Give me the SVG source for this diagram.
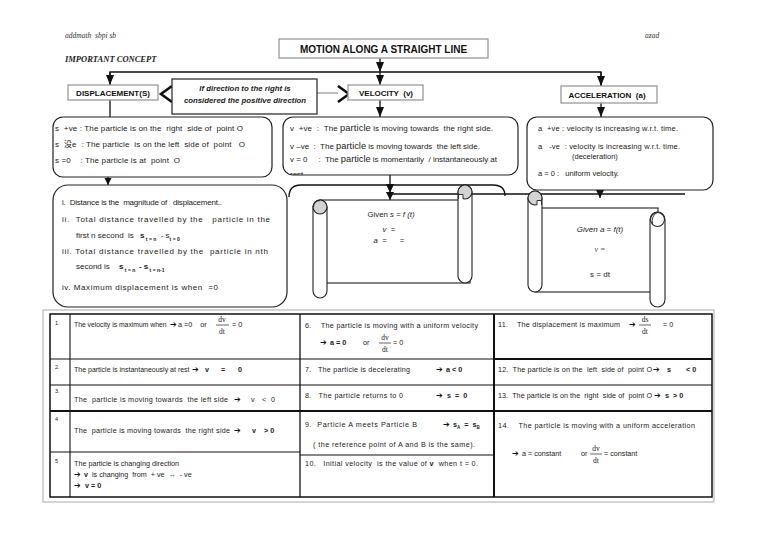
<svg xmlns="http://www.w3.org/2000/svg" width="768" height="534" viewBox="0 0 768 534">
<defs>
<style>
.t{font-family:"Liberation Sans",Arial,sans-serif;font-size:7.2px;fill:#222;white-space:pre}
.t8{font-family:"Liberation Sans",Arial,sans-serif;font-size:8px;fill:#222;white-space:pre}
.t75{font-family:"Liberation Sans",Arial,sans-serif;font-size:7.5px;fill:#222;white-space:pre}
.n{font-family:"Liberation Sans",Arial,sans-serif;font-size:5.5px;fill:#222}
.b{font-weight:bold}
.ar{font-family:"DejaVu Sans",sans-serif;font-size:8px;fill:#111}
.ser{font-family:"Liberation Serif","Times New Roman",serif;font-size:7.5px;fill:#222}
.hd{font-family:"Liberation Sans",Arial,sans-serif;font-weight:bold;fill:#111;white-space:pre}
.box{fill:#fff;stroke:#222;stroke-width:1.2}
.gbox{fill:#fff;stroke:#9a9a9a;stroke-width:1.3}
.ln{stroke:#111;stroke-width:1.3;fill:none}
.tl{stroke:#111;stroke-width:1.1;fill:none}
.tk{stroke:#111;stroke-width:2;fill:none}
.fr{stroke:#222;stroke-width:0.7}
.curl{fill:#d3d3d3;stroke:#222;stroke-width:1.1}
.sc{fill:#fff;stroke:#222;stroke-width:1.1}
</style>
<marker id="ah" markerUnits="userSpaceOnUse" markerWidth="8" markerHeight="10" refX="4" refY="10" orient="0" viewBox="0 0 8 10">
<path d="M0,0 L8,0 L4,10 Z" fill="#111"/>
</marker>
<clipPath id="cv"><rect x="283" y="117" width="235" height="58" rx="10"/></clipPath>
</defs>
<rect width="768" height="534" fill="#fff"/>

<text x="65" y="38" style="font-family:'Liberation Serif',serif;font-style:italic;font-size:7.5px;fill:#333;white-space:pre">addmath  sbpi sb</text>
<text x="645" y="38" style="font-family:'Liberation Serif',serif;font-style:italic;font-size:7.5px;fill:#333">azad</text>
<text x="65" y="62" style="font-family:'Liberation Serif',serif;font-style:italic;font-weight:bold;font-size:8.5px;fill:#222">IMPORTANT CONCEPT</text>

<g id="connectors">
<line class="ln" x1="380" y1="58" x2="380" y2="72" marker-end="url(#ah)"/>
<polyline class="ln" points="110,85 110,72 601,72 601,86"/>
<line class="ln" x1="110" y1="72" x2="110" y2="85" marker-end="url(#ah)"/>
<line class="ln" x1="380" y1="72" x2="380" y2="85" marker-end="url(#ah)"/>
<line class="ln" x1="601" y1="72" x2="601" y2="86" marker-end="url(#ah)"/>
<line class="ln" x1="110" y1="100" x2="110" y2="117"/>
<line class="ln" x1="380" y1="100" x2="380" y2="117" marker-end="url(#ah)"/>
<line class="ln" x1="601" y1="103" x2="601" y2="117" marker-end="url(#ah)"/>
<line class="ln" x1="108" y1="177" x2="108" y2="185"/>
<path d="M104.5,178 L111.5,178 L108,185 Z" fill="#111"/>
<line x1="317" y1="93" x2="338" y2="93" stroke="#999" stroke-width="1.3"/>
<polyline points="172,86 161,94 172,102" fill="none" stroke="#111" stroke-width="2.6"/>
<polyline points="338,86 349,94 338,102" fill="none" stroke="#111" stroke-width="2.6"/>
<path class="ln" d="M289,197 Q289,185 301,185 L493,185 Q505,185 505,196"/>
<line class="ln" x1="390" y1="194" x2="685" y2="194"/>
<line class="ln" x1="390" y1="175" x2="390" y2="200"/>
<path d="M386,184 L394,184 L390,193 Z M386,192 L394,192 L390,200 Z" fill="#111"/>
<line class="ln" x1="600" y1="190" x2="600" y2="198"/>
<path d="M596,190 L604,190 L600,198 Z" fill="#111"/>
</g>

<g id="title">
<rect class="gbox" x="279" y="39" width="209" height="19"/>
<text class="hd" x="383.5" y="52.5" text-anchor="middle" font-size="10">MOTION ALONG A STRAIGHT LINE</text>
</g>

<g id="displacement">
<rect class="gbox" x="68" y="85" width="90" height="15"/>
<text class="hd" x="113" y="95.5" text-anchor="middle" font-size="8">DISPLACEMENT(S)</text>
</g>

<g id="direction-note">
<rect class="box" x="172" y="79" width="145" height="35"/>
<text x="245" y="91" text-anchor="middle" style="font-family:'Liberation Sans',Arial,sans-serif;font-weight:bold;font-style:italic;font-size:7.8px;fill:#222">If direction to the right is</text>
<text x="245" y="103" text-anchor="middle" style="font-family:'Liberation Sans',Arial,sans-serif;font-weight:bold;font-style:italic;font-size:7.8px;fill:#222">considered the positive direction</text>
</g>

<g id="velocity">
<rect class="gbox" x="348" y="85" width="75" height="15"/>
<text class="hd" x="386" y="95.5" text-anchor="middle" font-size="8">VELOCITY  (v)</text>
</g>

<g id="acceleration">
<rect class="gbox" x="561" y="86" width="96" height="17"/>
<text class="hd" x="607" y="97.5" text-anchor="middle" font-size="8">ACCELERATION  (a)</text>
</g>

<g id="displacement-signs">
<rect class="box" x="53" y="117" width="219" height="60" rx="10"/>
<text class="t8" x="55" y="131" textLength="188" lengthAdjust="spacing">s  +ve : The particle is on the  right  side of  point O</text>
<text class="t8" x="55" y="147" textLength="190" lengthAdjust="spacing" style="font-family:'Liberation Sans','Noto Sans CJK SC',sans-serif">s  没e  : The particle  is on the left  side of  point   O</text>
<text class="t8" x="55" y="163" textLength="125" lengthAdjust="spacing">s =0    : The particle is at  point  O</text>
</g>

<g id="velocity-signs">
<rect class="box" x="283" y="117" width="235" height="58" rx="10"/>
<g clip-path="url(#cv)">
<text class="t8" x="290" y="131" textLength="203" lengthAdjust="spacing">v  +ve  :  The <tspan font-size="9.3">particle</tspan> is moving towards  the right side.</text>
<text class="t8" x="290" y="149" textLength="190" lengthAdjust="spacing">v –ve  :  The <tspan font-size="9.3">particle</tspan> is moving towards  the left side.</text>
<text class="t8" x="290" y="162" textLength="207" lengthAdjust="spacing">v = 0     :  The <tspan font-size="9.3">particle</tspan> is momentarily  / instantaneously at</text>
<text class="t8" x="290" y="177">rest</text>
</g>
</g>

<g id="acceleration-signs">
<rect class="box" x="527" y="117" width="186" height="73" rx="10"/>
<text class="t75" x="538" y="131" textLength="140" lengthAdjust="spacing">a  +ve : velocity is increasing w.r.t. time.</text>
<text class="t75" x="538" y="149" textLength="142" lengthAdjust="spacing">a   -ve  : velocity is increasing w.r.t. time.</text>
<text class="t75" x="572" y="159">(deceleration)</text>
<text class="t75" x="538" y="176">a = 0 :   uniform velocity.</text>
</g>

<g id="distance-notes">
<rect class="box" x="53" y="185" width="234" height="122" rx="15"/>
<text class="t8" x="62" y="205" textLength="160" lengthAdjust="spacing">i.  Distance is the  magnitude of   displacement..</text>
<text class="t8" x="62" y="222" textLength="208" lengthAdjust="spacing">ii.  Total distance travelled by the   particle in the</text>
<text class="t8" x="76" y="238">first n second  is</text>
<text class="t8" x="140" y="238"><tspan font-weight="bold">s</tspan><tspan font-size="5" font-weight="bold" dy="2.5"> t = n</tspan><tspan dy="-2.5">  - s</tspan><tspan font-size="5" font-weight="bold" dy="2.5">t = 0</tspan></text>
<text class="t8" x="62" y="254" textLength="206" lengthAdjust="spacing">iii. Total distance travelled by the  particle in nth</text>
<text class="t8" x="76" y="269">second is</text>
<text class="t8" x="119" y="269"><tspan font-weight="bold">s</tspan><tspan font-size="5" font-weight="bold" dy="2.5"> t = n </tspan><tspan dy="-2.5" font-weight="bold"> - s</tspan><tspan font-size="5" font-weight="bold" dy="2.5"> t = n-1</tspan></text>
<text class="t8" x="62" y="290" textLength="156" lengthAdjust="spacing">iv. Maximum displacement is when  =0</text>
</g>

<g id="scroll-velocity">
<rect class="sc" x="320" y="200" width="150" height="83"/>
<rect class="sc" x="458" y="185" width="14" height="98" rx="7"/>
<rect class="sc" x="313" y="200" width="14" height="98" rx="7"/>
<circle class="curl" cx="465" cy="192" r="7"/>
<path d="M458.5,199 L458.5,194.5 L463,194.5 L463,199" fill="#fff" stroke="#222" stroke-width="0.9"/>
<circle class="curl" cx="320" cy="207" r="7"/>
<path d="M320,200.5 Q314,201 313.5,207" fill="none" stroke="#222" stroke-width="0.9"/>
<text x="391" y="217" text-anchor="middle" style="font-family:'Liberation Sans',Arial,sans-serif;font-size:7.8px;fill:#222;white-space:pre">Given <tspan font-style="italic">s = f (t)</tspan></text>
<text x="389" y="232" text-anchor="middle" style="font-family:'Liberation Sans',Arial,sans-serif;font-size:7.8px;fill:#222;white-space:pre"><tspan font-style="italic">v</tspan>  =</text>
<text x="389" y="243" text-anchor="middle" style="font-family:'Liberation Sans',Arial,sans-serif;font-size:7.8px;fill:#222;white-space:pre"><tspan font-style="italic">a</tspan>  =      =</text>
</g>

<g id="scroll-acceleration">
<rect class="sc" x="535" y="208" width="123" height="84"/>
<rect class="sc" x="528" y="191" width="14" height="101" rx="7"/>
<rect class="sc" x="650" y="212" width="15" height="95" rx="7.5"/>
<circle class="curl" cx="535" cy="198" r="7"/>
<path d="M541.5,205 L541.5,200.5 L537,200.5 L537,205" fill="#fff" stroke="#222" stroke-width="0.9"/>
<circle class="sc" cx="657.5" cy="219.5" r="7"/>
<path d="M657,212.5 Q651,216 652.5,224" fill="none" stroke="#222" stroke-width="0.9"/>
<text x="600" y="232" text-anchor="middle" style="font-family:'Liberation Sans',Arial,sans-serif;font-style:italic;font-size:8px;fill:#222">Given a = f(t)</text>
<text x="600" y="252" text-anchor="middle" style="font-family:'Liberation Serif',serif;font-style:italic;font-size:8px;fill:#555;white-space:pre">v =</text>
<text x="600" y="277" text-anchor="middle" style="font-family:'Liberation Sans',Arial,sans-serif;font-size:8px;fill:#222">s = dt</text>
</g>

<g id="summary-table">
<rect x="43" y="310" width="671" height="192" fill="none" stroke="#aaa" stroke-width="1"/>
<rect x="50" y="314" width="662" height="183" fill="none" stroke="#111" stroke-width="1.5"/>
<line class="tl" x1="70" y1="314" x2="70" y2="497"/>
<line class="ln" x1="300" y1="314" x2="300" y2="497"/>
<line class="tk" x1="494" y1="314" x2="494" y2="497"/>
<line class="tl" x1="50" y1="359" x2="494" y2="359"/>
<line class="tk" x1="494" y1="359" x2="712" y2="359"/>
<line class="tl" x1="50" y1="385" x2="712" y2="385"/>
<line class="tk" x1="50" y1="411" x2="712" y2="411"/>
<line class="tl" x1="50" y1="452" x2="300" y2="452"/>
<line class="tl" x1="300" y1="455" x2="494" y2="455"/>

<text class="n" x="55" y="325">1.</text>
<text class="t" x="74" y="327" style="font-size:6.8px">The velocity is maximum when</text>
<text class="ar" x="170" y="327">➔</text>
<text class="t" x="178" y="327">a =0    or</text>
<text class="ser" x="222" y="322" text-anchor="middle">dv</text>
<line class="fr" x1="216" y1="325" x2="229" y2="325"/>
<text class="ser" x="222" y="334" text-anchor="middle">dt</text>
<text class="t" x="232" y="327">= 0</text>

<text class="t" x="305" y="328" textLength="173" lengthAdjust="spacing">6.    The particle is moving with a uniform velocity</text>
<text class="ar" x="320" y="345">➔</text>
<text class="t b" x="330" y="345">a = 0</text>
<text class="t" x="363" y="345">or</text>
<text class="ser" x="385" y="340" text-anchor="middle">dv</text>
<line class="fr" x1="379" y1="343" x2="391" y2="343"/>
<text class="ser" x="385" y="352" text-anchor="middle">dt</text>
<text class="t" x="393" y="345">= 0</text>

<text class="t" x="498" y="327" textLength="122" lengthAdjust="spacing">11.    The displacement is maximum</text>
<text class="ar" x="629" y="327">➔</text>
<text class="ser" x="645" y="322" text-anchor="middle">ds</text>
<line class="fr" x1="639" y1="325" x2="651" y2="325"/>
<text class="ser" x="645" y="334" text-anchor="middle">dt</text>
<text class="t" x="663" y="327">= 0</text>

<text class="n" x="55" y="369">2.</text>
<text class="t" x="74" y="372" style="font-size:7px">The particle is instantaneously at rest</text>
<text class="ar" x="192" y="372">➔</text>
<text class="t b" x="205" y="372">v</text>
<text class="t b" x="221" y="372">=</text>
<text class="t b" x="238" y="372">0</text>
<text class="t" x="305" y="372" textLength="105" lengthAdjust="spacing">7.   The particle is decelerating</text>
<text class="ar" x="436" y="372">➔</text>
<text class="t b" x="446" y="372">a &lt; 0</text>
<text class="t" x="498" y="372" textLength="154" lengthAdjust="spacing">12.  The particle is on the  left  side of  point O</text>
<text class="ar" x="653" y="372">➔</text>
<text class="t b" x="667" y="372">s</text>
<text class="t b" x="686" y="372">&lt; 0</text>

<text class="n" x="55" y="393">3.</text>
<text class="t" x="74" y="402" textLength="154" lengthAdjust="spacing">The  particle is moving towards  the left side</text>
<text class="ar" x="234" y="402">➔</text>
<text class="t" x="251" y="402">v</text>
<text class="t" x="262" y="402">&lt;</text>
<text class="t" x="271" y="402">0</text>
<text class="t" x="305" y="398" textLength="98" lengthAdjust="spacing">8.   The particle returns to 0</text>
<text class="ar" x="436" y="398">➔</text>
<text class="t b" x="447" y="398">s  =  0</text>
<text class="t" x="498" y="398" textLength="154" lengthAdjust="spacing">13.  The particle is on the  right  side of  point O</text>
<text class="ar" x="654" y="398">➔</text>
<text class="t b" x="665" y="398">s  &gt; 0</text>

<text class="n" x="55" y="421">4</text>
<text class="t" x="74" y="433" textLength="156" lengthAdjust="spacing">The  particle is moving towards  the right side</text>
<text class="ar" x="234" y="433">➔</text>
<text class="t b" x="252" y="433">v</text>
<text class="t b" x="264" y="433">&gt; 0</text>
<text class="t" x="305" y="427" textLength="112" lengthAdjust="spacing">9.  Particle A meets Particle B</text>
<text class="ar" x="443" y="427">➔</text>
<text class="t b" x="453" y="427">s<tspan font-size="4.5" dy="1.5">A</tspan><tspan dy="-1.5">  =  s</tspan><tspan font-size="4.5" dy="1.5">B</tspan></text>
<text class="t" x="313" y="447" textLength="162" lengthAdjust="spacing">( the reference point of A and B is the same).</text>
<text class="t" x="498" y="428" textLength="197" lengthAdjust="spacing">14.    The particle is moving with a uniform acceleration</text>
<text class="ar" x="512" y="456">➔</text>
<text class="t" x="522" y="456">a = constant</text>
<text class="t" x="581" y="456">or</text>
<text class="ser" x="596" y="451" text-anchor="middle">dv</text>
<line class="fr" x1="590" y1="454" x2="602" y2="454"/>
<text class="ser" x="596" y="463" text-anchor="middle">dt</text>
<text class="t" x="604" y="456">= constant</text>

<text class="n" x="55" y="463">5</text>
<text class="t" x="74" y="466">The particle is changing direction</text>
<text class="ar" x="74" y="477">➔</text>
<text class="t" x="84" y="477"><tspan font-weight="bold">v</tspan>  is changing  from  + ve  ↔  - ve</text>
<text class="ar" x="74" y="488">➔</text>
<text class="t b" x="85" y="488">v = 0</text>
<text class="t" x="305" y="466" textLength="173" lengthAdjust="spacing">10.   Initial velocity  is the value of <tspan font-weight="bold">v</tspan>  when t = 0.</text>
</g>
</svg>
